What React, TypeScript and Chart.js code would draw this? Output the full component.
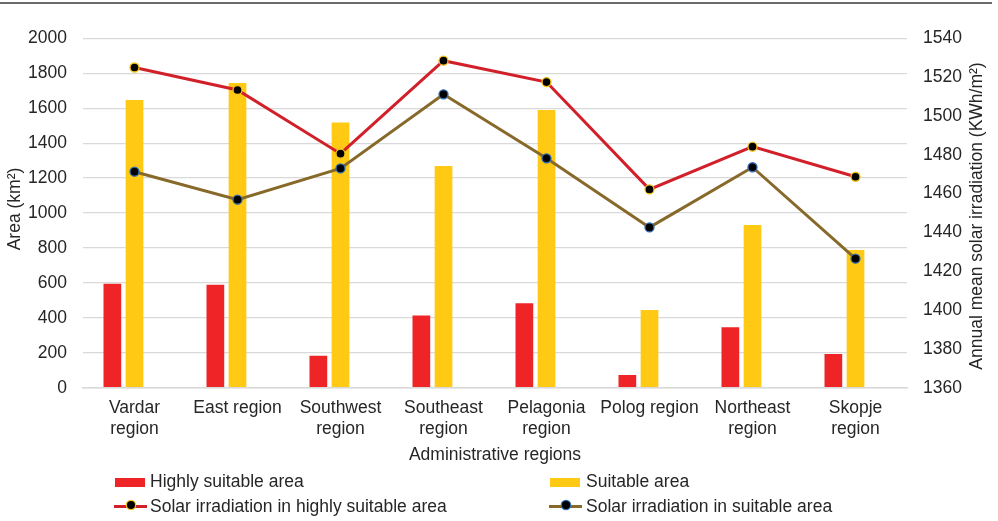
import React, { useEffect, useRef } from "react";
import { Chart, registerables } from "chart.js";

Chart.register(...registerables);

// ---- data ----
const categories: string[][] = [
  ["Vardar", "region"],
  ["East region"],
  ["Southwest", "region"],
  ["Southeast", "region"],
  ["Pelagonia", "region"],
  ["Polog region"],
  ["Northeast", "region"],
  ["Skopje", "region"],
];
const highlySuitableArea = [595, 590, 183, 414, 483, 73, 346, 193];
const suitableArea = [1648, 1745, 1518, 1269, 1590, 445, 932, 788];
const irradiationHighly = [1525, 1513.4, 1480.6, 1528.5, 1517.5, 1462.2, 1484.2, 1468.7];
const irradiationSuitable = [1471.3, 1456.9, 1473, 1511.2, 1478.2, 1442.6, 1473.6, 1426.5];
const areaAxis = [0, 2000, 200]; // min, max, step
const irradAxis = [1360, 1540, 20]; // min, max, step

const seriesNames = [
  "Highly suitable area",
  "Suitable area",
  "Solar irradiation in highly suitable area",
  "Solar irradiation in suitable area",
];
const leftTitle = "Area (km²)";
const rightTitle = "Annual mean solar irradiation (KWh/m²)";
const xTitle = "Administrative regions";

// ---- styles ----
const FONT = "'Liberation Sans', Arial, sans-serif";
const TEXT = "#262626";
const RED = "#EE2426";
const YELLOW = "#FFC914";
const RED_LINE = "#D2202A";
const BROWN = "#87692A";
const MARK_Y = "#F5C518";
const MARK_B = "#2F6DB5";
const GRID = "#D9D9D9";

const sideTitles = {
  id: "sideTitles",
  afterDraw(chart: any) {
    const ctx = chart.ctx;
    ctx.save();
    ctx.font = `17.5px ${FONT}`;
    ctx.fillStyle = TEXT;
    ctx.textAlign = "center";
    ctx.textBaseline = "middle";
    ctx.save();
    ctx.translate(15, 209);
    ctx.rotate(-Math.PI / 2);
    ctx.fillText(leftTitle, 0, 0);
    ctx.restore();
    ctx.save();
    ctx.translate(977, 216);
    ctx.rotate(-Math.PI / 2);
    ctx.fillText(rightTitle, 0, 0);
    ctx.restore();
    ctx.restore();
  },
};

function LegendBox({ left, top, color }: { left: number; top: number; color: string }) {
  return (
    <div style={{ position: "absolute", left, top, width: 30, height: 9, background: color }} />
  );
}
function LegendLine({ left, top, color, border }: { left: number; top: number; color: string; border: string }) {
  return (
    <div style={{ position: "absolute", left, top, width: 33, height: 3, background: color }}>
      <div
        style={{
          position: "absolute",
          left: 12.5,
          top: -3.5,
          width: 8,
          height: 8,
          borderRadius: "50%",
          background: "#000",
          boxShadow: `0 0 0 1.3px ${border}`,
        }}
      />
    </div>
  );
}
function LegendText({ left, top, text }: { left: number; top: number; text: string }) {
  return (
    <div
      style={{
        position: "absolute",
        left,
        top,
        fontFamily: FONT,
        fontSize: 17.5,
        lineHeight: "20px",
        color: TEXT,
        whiteSpace: "nowrap",
      }}
    >
      {text}
    </div>
  );
}

export default function App() {
  const ref = useRef<HTMLCanvasElement | null>(null);

  useEffect(() => {
    if (!ref.current) return;
    const chart = new Chart(ref.current, {
      type: "bar",
      data: {
        labels: categories as any,
        datasets: [
          {
            type: "bar",
            label: seriesNames[0],
            data: highlySuitableArea,
            backgroundColor: RED,
            yAxisID: "y",
            order: 2,
            categoryPercentage: 0.645,
            barPercentage: 0.8,
          },
          {
            type: "bar",
            label: seriesNames[1],
            data: suitableArea,
            backgroundColor: YELLOW,
            yAxisID: "y",
            order: 2,
            categoryPercentage: 0.645,
            barPercentage: 0.8,
          },
          {
            type: "bar",
            label: "",
            data: categories.map(() => null) as any,
            backgroundColor: "transparent",
            yAxisID: "y",
            order: 2,
            categoryPercentage: 0.645,
            barPercentage: 0.8,
          },
          {
            type: "line",
            label: seriesNames[2],
            data: irradiationHighly,
            borderColor: RED_LINE,
            borderWidth: 3,
            pointRadius: 4.5,
            pointBackgroundColor: "#000",
            pointBorderColor: MARK_Y,
            pointBorderWidth: 1.3,
            yAxisID: "y1",
            order: 0,
          } as any,
          {
            type: "line",
            label: seriesNames[3],
            data: irradiationSuitable,
            borderColor: BROWN,
            borderWidth: 3,
            pointRadius: 4.5,
            pointBackgroundColor: "#000",
            pointBorderColor: MARK_B,
            pointBorderWidth: 1.3,
            yAxisID: "y1",
            order: 1,
          } as any,
        ],
      },
      options: {
        animation: false,
        responsive: false,
        maintainAspectRatio: false,
        layout: { padding: { left: 0, right: 0, top: 38.4, bottom: 51 } },
        plugins: {
          legend: { display: false },
          tooltip: { enabled: false },
        },
        scales: {
          x: {
            grid: { display: false, drawTicks: false },
            border: { display: true, color: GRID, width: 1.5 },
            ticks: {
              color: TEXT,
              font: { family: FONT, size: 17.5, lineHeight: 1.2 },
              padding: 10,
              maxRotation: 0,
              autoSkip: false,
            },
            title: {
              display: true,
              text: xTitle,
              color: TEXT,
              font: { family: FONT, size: 17.5, lineHeight: 1.2 },
              padding: 4,
            },
            afterFit: (s: any) => {
              s.height = 521 - 51 - 387.7;
            },
          },
          y: {
            position: "left",
            min: areaAxis[0],
            max: areaAxis[1],
            grid: { color: GRID, lineWidth: 1.3, drawTicks: false },
            border: { display: false },
            ticks: {
              stepSize: areaAxis[2],
              color: TEXT,
              font: { family: FONT, size: 17.5 },
              padding: 16,
              callback: (v: any) => String(v),
            },
            afterFit: (s: any) => {
              s.width = 83;
            },
          },
          y1: {
            position: "right",
            min: irradAxis[0],
            max: irradAxis[1],
            grid: { display: false, drawTicks: false },
            border: { display: false },
            ticks: {
              stepSize: irradAxis[2],
              color: TEXT,
              font: { family: FONT, size: 17.5 },
              padding: 16,
              callback: (v: any) => String(v),
            },
            afterFit: (s: any) => {
              s.width = 91;
            },
          },
        },
      },
      plugins: [sideTitles],
    } as any);
    return () => chart.destroy();
  }, []);

  return (
    <div style={{ position: "fixed", left: 0, top: 0, width: 998, height: 521, background: "#fff", overflow: "hidden" }}>
      <div style={{ position: "absolute", left: 0, top: 2, width: 992, height: 1.5, background: "#6b6b6b" }} />
      <canvas ref={ref} width={998} height={521} style={{ position: "absolute", left: 0, top: 0, width: 998, height: 521 }} />
      <LegendBox left={115} top={478} color={RED} />
      <LegendText left={150} top={471.2} text={seriesNames[0]} />
      <LegendBox left={550} top={478} color={YELLOW} />
      <LegendText left={586} top={471.2} text={seriesNames[1]} />
      <LegendLine left={114} top={504.5} color={RED_LINE} border={MARK_Y} />
      <LegendText left={150} top={495.6} text={seriesNames[2]} />
      <LegendLine left={549} top={504.5} color={BROWN} border={MARK_B} />
      <LegendText left={586} top={495.6} text={seriesNames[3]} />
    </div>
  );
}
